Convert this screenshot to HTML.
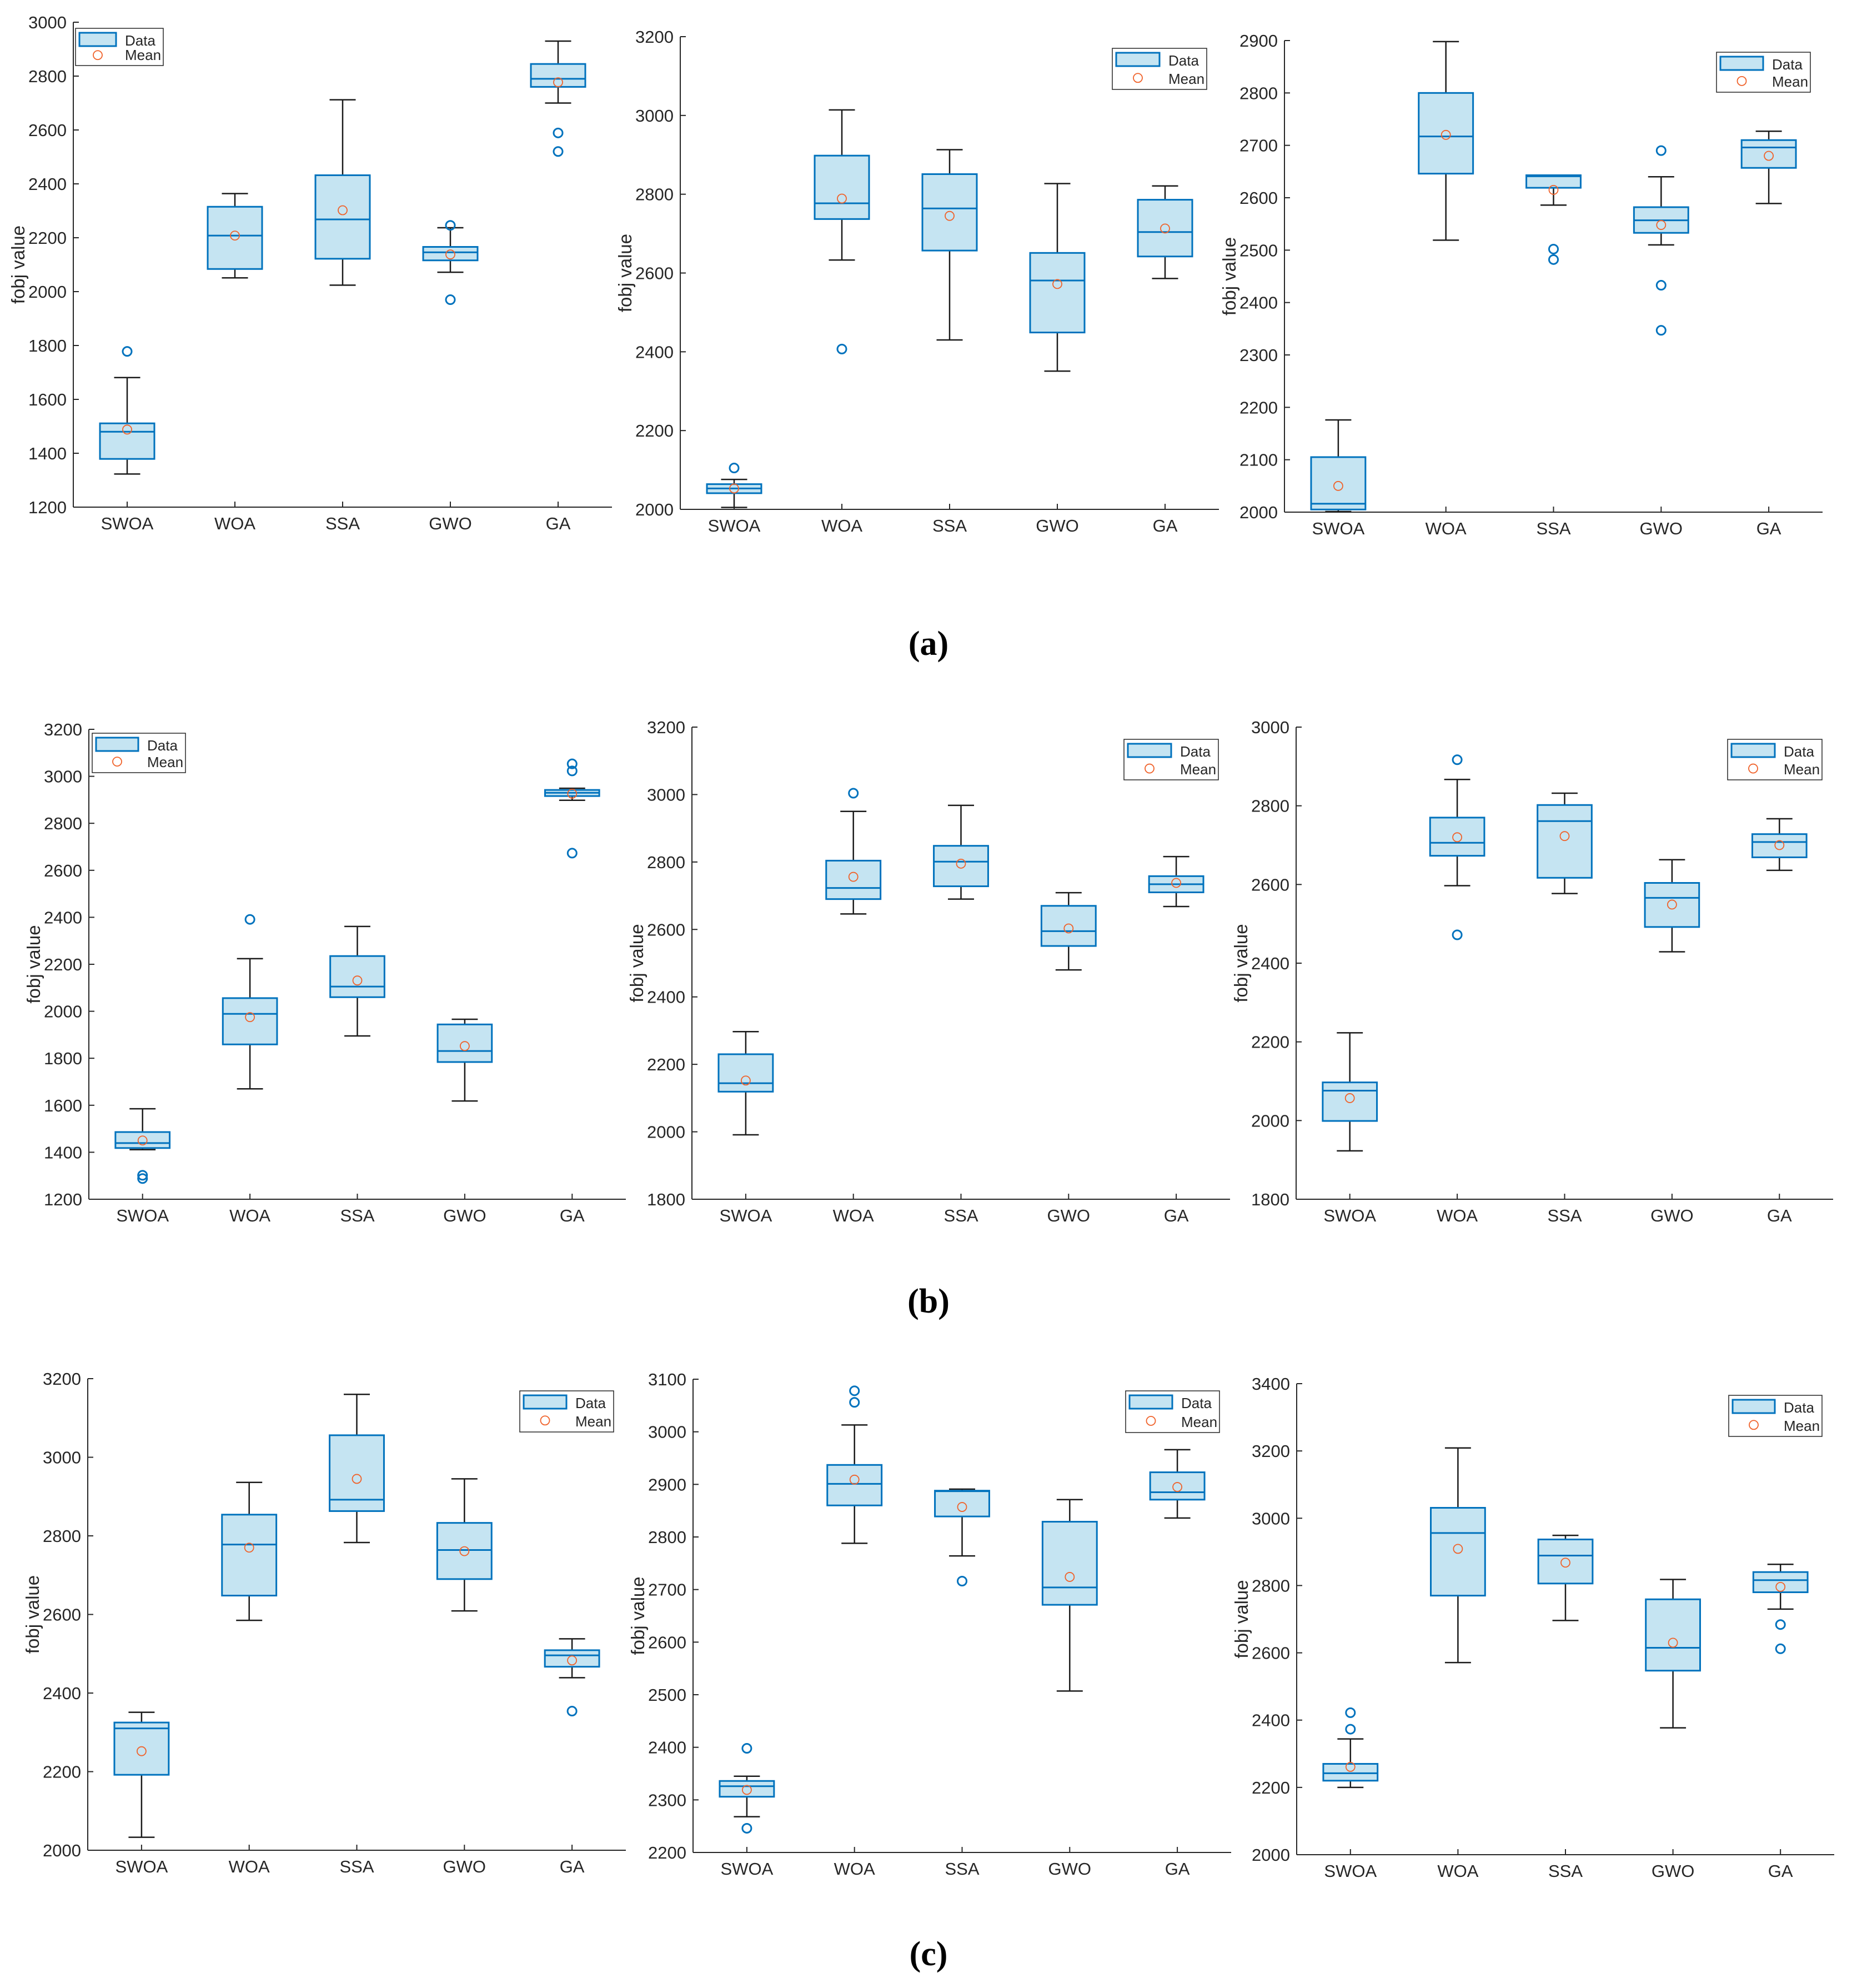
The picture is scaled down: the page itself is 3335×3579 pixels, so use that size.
<!DOCTYPE html>
<html>
<head>
<meta charset="utf-8">
<style>
html,body{margin:0;padding:0;background:#fff;}
svg{display:block;}
text{font-family:"Liberation Sans",Arial,sans-serif;fill:#262626;}
</style>
</head>
<body>
<svg id="fig" xmlns="http://www.w3.org/2000/svg" width="3335" height="3579" viewBox="0 0 3335 3579"></svg>
<script>
// ===== data =====
const categories = ["SWOA","WOA","SSA","GWO","GA"];
const yTickMin = [1200,2000,2000,1200,1800,1800,2000,2200,2000];
const yTickMax = [3000,3200,2900,3200,3200,3000,3200,3100,3400];
const yTickStep = [200,200,100,200,200,200,200,100,200];
const whiskerHigh = [
 [1681,2364,2712,2237,2930],
 [2076,3014,2913,2827,2821],
 [2176,2898,2643,2640,2727],
 [1585,2224,2361,1966,2949],
 [2297,2950,2968,2709,2816],
 [2223,2867,2832,2663,2767],
 [2351,2936,3160,2945,2538],
 [2345,3013,2891,2871,2966],
 [2344,3209,2949,2818,2863]
];
const quart3 = [
 [1511,2315,2432,2166,2845],
 [2064,2898,2851,2651,2786],
 [2105,2800,2643,2582,2710],
 [1486,2056,2235,1944,2942],
 [2230,2804,2848,2670,2758],
 [2097,2770,2802,2604,2728],
 [2325,2854,3056,2833,2509],
 [2336,2937,2888,2829,2923],
 [2270,3031,2937,2759,2840]
];
const medians = [
 [1480,2208,2268,2146,2790],
 [2053,2777,2764,2581,2704],
 [2016,2717,2641,2557,2696],
 [1439,1989,2105,1831,2930],
 [2144,2723,2801,2595,2734],
 [2076,2706,2761,2566,2708],
 [2310,2778,2892,2764,2496],
 [2326,2901,2887,2704,2885],
 [2242,2956,2889,2615,2816]
];
const quart1 = [
 [1379,2084,2122,2116,2760],
 [2041,2737,2657,2449,2642],
 [2005,2646,2619,2533,2657],
 [1418,1859,2060,1784,2916],
 [2119,2690,2728,2551,2710],
 [1999,2673,2617,2492,2669],
 [2192,2648,2863,2690,2467],
 [2306,2860,2839,2671,2871],
 [2220,2770,2806,2547,2780]
];
const whiskerLow = [
 [1323,2051,2024,2072,2700],
 [2005,2633,2430,2351,2586],
 [2001,2519,2586,2510,2589],
 [1411,1670,1895,1618,2898],
 [1991,2646,2690,2480,2668],
 [1923,2597,2577,2429,2636],
 [2033,2585,2783,2609,2439],
 [2268,2788,2764,2507,2836],
 [2200,2571,2696,2377,2730]
];
const means = [
 [1488,2208,2302,2138,2777],
 [2053,2789,2745,2572,2713],
 [2050,2720,2615,2548,2680],
 [1450,1975,2131,1852,2926],
 [2152,2756,2795,2603,2738],
 [2057,2720,2723,2549,2700],
 [2252,2770,2945,2761,2483],
 [2319,2909,2857,2724,2895],
 [2261,2909,2868,2630,2796]
];
const outliers = [
 [[1778],[],[],[2246,1970],[2589,2520]],
 [[2105],[2407],[],[],[]],
 [[],[],[2502,2482],[2690,2433,2347],[]],
 [[1302,1288],[2391],[],[],[3053,3023,2673]],
 [[],[3004],[],[],[]],
 [[],[2917,2472],[],[],[]],
 [[],[],[],[],[2354]],
 [[2398,2246],[3078,3056],[2716],[],[]],
 [[2422,2373],[],[],[],[2684,2612]]
];
// ===== layout (pixels) =====
const panels = [
 {l:132,r:1102,t:40,b:913,lg:[136,51,158,67]},
 {l:1225,r:2195,t:66,b:917,lg:[2003,87,170,74]},
 {l:2313,r:3282,t:73,b:922,lg:[3091,94,169,72]},
 {l:160,r:1127,t:1313,b:2159,lg:[166,1320,168,71]},
 {l:1246,r:2215,t:1309,b:2159,lg:[2024,1331,170,73]},
 {l:2334,r:3301,t:1309,b:2159,lg:[3111,1331,170,73]},
 {l:158,r:1127,t:2482,b:3331,lg:[936,2504,169,74]},
 {l:1248,r:2217,t:2483,b:3335,lg:[2027,2504,169,75]},
 {l:2335,r:3303,t:2491,b:3339,lg:[3113,2512,168,74]}
];
const NS="http://www.w3.org/2000/svg";
const svg=document.getElementById('fig');
function mk(tag,attrs,parent){const e=document.createElementNS(NS,tag);for(const k in attrs)e.setAttribute(k,attrs[k]);(parent||svg).appendChild(e);return e;}
const BLUE="#0072BD",FILL="#c5e4f2",ORANGE="#f0622a",AX="#262626";

panels.forEach((p,pi)=>{
  const g=mk('g',{});
  
  
  const y0=yTickMin[pi],y1=yTickMax[pi];
  const ys=v=>p.b-(v-y0)/(y1-y0)*(p.b-p.t);
  const step=(p.r-p.l)/categories.length;
  const xs=i=>p.l+step*(i+0.5);
  const bw=step*0.505, cw=bw*0.48;
  const ya=mk('line',{x1:p.l,y1:p.t,x2:p.l,y2:p.b,stroke:AX,'stroke-width':2},g);
  
  
  const xa=mk('line',{x1:p.l,y1:p.b,x2:p.r,y2:p.b,stroke:AX,'stroke-width':2},g);
  
  
  for(let v=y0;v<=y1+0.01;v+=yTickStep[pi]){
    const y=ys(v);
    mk('line',{x1:p.l,y1:y,x2:p.l+10,y2:y,stroke:AX,'stroke-width':2},g);
    const t=mk('text',{x:p.l-12,y:y+11,'text-anchor':'end','font-size':31},g);
    t.textContent=v;
    
    
  }
  categories.forEach((c,i)=>{
    const x=xs(i);
    mk('line',{x1:x,y1:p.b,x2:x,y2:p.b-10,stroke:AX,'stroke-width':2},g);
    const t=mk('text',{x:x,y:p.b+40,'text-anchor':'middle','font-size':31},g);
    t.textContent=c;
    
    
  });
  const yl=mk('text',{x:0,y:0,'text-anchor':'middle','font-size':33,transform:`translate(${p.l-88},${(p.t+p.b)/2}) rotate(-90)`},g);
  yl.textContent='fobj value';
  
  
  categories.forEach((c,i)=>{
    const x=xs(i);
    const bg=mk('g',{},g);
    
    
    const hi=ys(whiskerHigh[pi][i]),lo=ys(whiskerLow[pi][i]),q3=ys(quart3[pi][i]),q1=ys(quart1[pi][i]),md=ys(medians[pi][i]);
    mk('line',{x1:x,y1:hi,x2:x,y2:q3,stroke:'#1a1a1a','stroke-width':2.5},bg);
    mk('line',{x1:x,y1:q1,x2:x,y2:lo,stroke:'#1a1a1a','stroke-width':2.5},bg);
    mk('line',{x1:x-cw/2,y1:hi,x2:x+cw/2,y2:hi,stroke:'#1a1a1a','stroke-width':2.5},bg);
    mk('line',{x1:x-cw/2,y1:lo,x2:x+cw/2,y2:lo,stroke:'#1a1a1a','stroke-width':2.5},bg);
    mk('rect',{x:x-bw/2,y:q3,width:bw,height:Math.max(q1-q3,1),fill:FILL,stroke:BLUE,'stroke-width':3},bg);
    mk('line',{x1:x-bw/2,y1:md,x2:x+bw/2,y2:md,stroke:BLUE,'stroke-width':3},bg);
    outliers[pi][i].forEach(v=>{
      const o=mk('circle',{cx:x,cy:ys(v),r:8,fill:'none',stroke:BLUE,'stroke-width':3},bg);
      
      
    });
    const m=mk('circle',{cx:x,cy:ys(means[pi][i]),r:8,fill:'none',stroke:ORANGE,'stroke-width':1.8},bg);
    
    
  });
  const [lx,ly,lw,lh]=p.lg;
  const lgg=mk('g',{},g);
  
  
  mk('rect',{x:lx,y:ly,width:lw,height:lh,fill:'#fff',stroke:AX,'stroke-width':1.5},lgg);
  const pw=lw-92;
  mk('rect',{x:lx+7,y:ly+8,width:pw,height:24,fill:FILL,stroke:BLUE,'stroke-width':3},lgg);
  const td=mk('text',{x:lx+lw-69,y:ly+31,'font-size':26},lgg);
  td.textContent='Data';
  
  
  mk('circle',{cx:lx+7+pw/2,cy:ly+lh*0.72,r:8,fill:'none',stroke:ORANGE,'stroke-width':1.8},lgg);
  const tm=mk('text',{x:lx+lw-69,y:ly+lh-10,'font-size':26},lgg);
  tm.textContent='Mean';
  
  
});
[["(a)",1159],["(b)",2343],["(c)",3518]].forEach(([s,y])=>{
  const t=mk('text',{x:1672,y:y+20,'text-anchor':'middle','font-size':62,'font-weight':'bold',style:'font-family:"Liberation Serif",serif;fill:#000'});
  t.textContent=s;
  
  
});
</script>
</body>
</html>
